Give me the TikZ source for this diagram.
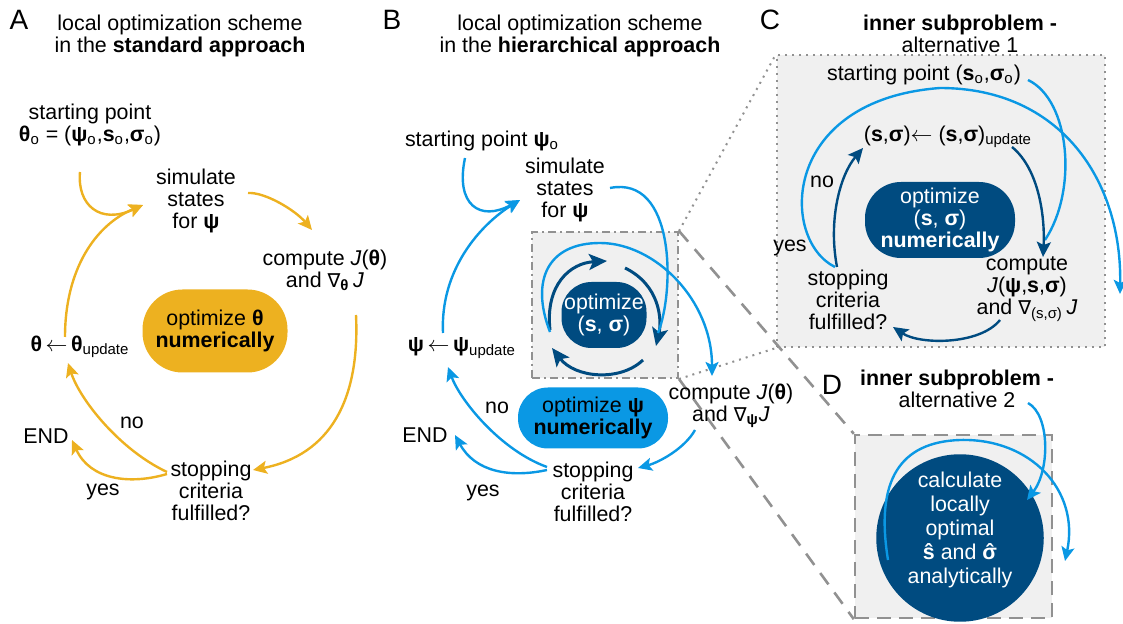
\documentclass[tikz,border=0pt]{standalone}
\usepackage{fontspec}
\setmainfont{Liberation Sans}
\newfontfamily\symf{DejaVu Sans}
\newcommand\nab{{\symf\fontsize{9.6}{11}\selectfont ∇}}
\newcommand\sighat{\ooalign{σ\cr\hidewidth\char"02C6\hidewidth\cr}}
\usetikzlibrary{arrows.meta}
\definecolor{ocher}{RGB}{237,177,32}
\definecolor{sky}{RGB}{10,152,228}
\definecolor{navy}{RGB}{0,75,128}
\definecolor{pane}{RGB}{240,240,240}
\definecolor{frame}{RGB}{145,145,145}
\tikzset{
  txt/.style={align=center,inner sep=1pt,font=\fontsize{10.7}{11}\selectfont},
  lbl/.style={inner sep=0pt,font=\fontsize{14}{16}\selectfont},
  pill/.style={rectangle,inner sep=0pt,align=center,font=\fontsize{10.7}{11}\selectfont},
  yarr/.style={draw=ocher,line width=1.2pt,-{Stealth[length=7pt,width=6.5pt,inset=1.5pt]}},
  barr/.style={draw=sky,line width=1.2pt,-{Stealth[length=7pt,width=6.5pt,inset=1.5pt]}},
  bline/.style={draw=sky,line width=1.2pt},
  darr/.style={draw=navy,line width=1.2pt,-{Stealth[length=7.5pt,width=7pt,inset=1.5pt]}},
  dthick/.style={draw=navy,line width=1.5pt,-{Stealth[length=9pt,width=8pt,inset=2pt]}},
  dotline/.style={draw=frame,line width=1pt,dash pattern=on 1pt off 2.5pt},
  dashline/.style={draw=frame,line width=1.3pt,dash pattern=on 7pt off 5pt},
  zoomB/.style={draw=frame,fill=pane,line width=1pt,dash pattern=on 4pt off 2pt on 1pt off 2pt,minimum width=73pt,minimum height=73pt,inner sep=0pt},
  zoomC/.style={dotline,fill=pane,minimum width=164pt,minimum height=146pt,inner sep=0pt},
  zoomD/.style={draw=frame,fill=pane,line width=1.2pt,dash pattern=on 7pt off 4pt,minimum width=98.5pt,minimum height=91.5pt,inner sep=0pt},
}

\begin{document}
\begin{tikzpicture}[x=0.5pt,y=-0.5pt]
	\useasboundingbox (0,0) rectangle (1123,624);

	\node[zoomB] at (605,305) (boxB) {};
	\node[zoomC] at (941,201) (boxC) {};
	\node[zoomD] at (953.5,526.5) (boxD) {};
	\draw[dotline] (boxB.north east) -- (boxC.north west);
	\draw[dotline] (boxB.south east) -- (boxC.south west);
	\draw[dashline] (boxB.north east) -- (boxD.north west);
	\draw[dashline] (boxB.south east) -- (boxD.south west);

	% A
	\node[lbl] at (19,20) (labA) {A};
	\node[txt] at (180,36) (ttlA) {local optimization scheme\\in the \textbf{standard approach}};
	\node[txt] at (90,125) (startA) {starting point\\\textbf{θ}\textsubscript{o} = (\textbf{ψ}\textsubscript{o},\textbf{s}\textsubscript{o},\textbf{σ}\textsubscript{o})};
	\node[txt] at (196,201) (simA) {simulate\\states\\for \textbf{ψ}};
	\node[txt] at (325,270) (cmpA) {compute \textit{J}(\textbf{θ})\\and \nab\textsubscript{\textbf{θ}}\,\textit{J}};
	\node[pill,fill=ocher,minimum width=72.5pt,minimum height=41.5pt,rounded corners=20pt] at (215,331) (optA) {optimize \textbf{θ}\\\textbf{numerically}};
	\node[txt] at (80,347) (updA) {\textbf{θ}\,$\leftarrow$\,\textbf{θ}\textsubscript{update}};
	\node[txt] at (211,491) (stopA) {stopping\\criteria\\fulfilled?};
	\node[txt] at (46,436) (endA) {END};
	\node[txt] at (132,423) (noA) {no};
	\node[txt] at (103,492) (yesA) {yes};

	\draw[yarr] ([shift={(-10,47)}]startA.center) .. controls (77,205) and (100,225) .. ([shift={(-53,4)}]simA.center);
	\draw[yarr] ([shift={(-15,-10)}]updA.center) .. controls (65,270) and (95,225) .. ([shift={(-53,4)}]simA.center);
	\draw[yarr] ([shift={(52,-8)}]simA.center) .. controls (265,192) and (295,210) .. ([shift={(-13,-40)}]cmpA.center);
	\draw[yarr] ([shift={(31,45)}]cmpA.center) .. controls (360,400) and (330,455) .. ([shift={(42,-21)}]stopA.center);
	\draw[yarr] ([shift={(-44,-19)}]stopA.center) .. controls (120,450) and (80,400) .. ([shift={(-12,16)}]updA.center);
	\draw[yarr] ([shift={(-44,-17)}]stopA.center) .. controls (130,485) and (90,480) .. ([shift={(26,4)}]endA.center);

	% B
	\node[lbl] at (392,20) (labB) {B};
	\node[txt] at (580,36) (ttlB) {local optimization scheme\\in the \textbf{hierarchical approach}};
	\node[txt] at (482,141) (startB) {starting point \textbf{ψ}\textsubscript{o}};
	\node[txt] at (565,190) (simB) {simulate\\states\\for \textbf{ψ}};
	\node[pill,fill=navy,text=white,minimum width=42.5pt,minimum height=33pt,rounded corners=15pt] at (604,315) (inB) {optimize\\(\textbf{s}, \textbf{σ})};
	\node[pill,fill=sky,minimum width=75pt,minimum height=30.5pt,rounded corners=15pt] at (593,418) (optB) {optimize \textbf{ψ}\\\textbf{numerically}};
	\node[txt] at (462,348) (updB) {\textbf{ψ}\,$\leftarrow$\,\textbf{ψ}\textsubscript{update}};
	\node[txt] at (731,406) (cmpB) {compute \textit{J}(\textbf{θ})\\and \nab\textsubscript{\textbf{ψ}}\textit{J}};
	\node[txt] at (593,492) (stopB) {stopping\\criteria\\fulfilled?};
	\node[txt] at (425,435) (endB) {END};
	\node[txt] at (497,408) (noB) {no};
	\node[txt] at (483,493) (yesB) {yes};

	\draw[dthick] ([shift={(-54,15)}]inB.center) .. controls (545,285) and (570,263) .. ([shift={(3,-54)}]inB.center);
	\draw[dthick] ([shift={(21,-47)}]inB.center) .. controls (660,285) and (662,320) .. ([shift={(52,31)}]inB.center);
	\draw[dthick] ([shift={(39,45)}]inB.center) .. controls (620,382) and (575,378) .. ([shift={(-52,33)}]inB.center);

	\draw[barr] ([shift={(-17,17)}]startB.center) .. controls (455,205) and (480,222) .. ([shift={(-45,10)}]simB.center);
	\draw[barr] ([shift={(-19,-15)}]updB.center) .. controls (440,270) and (480,225) .. ([shift={(-45,10)}]simB.center);
	\draw[bline] ([shift={(45,-2)}]simB.center) .. controls (675,175) and (675,290) .. ([shift={(54,18)}]inB.center);
	\draw[barr] ([shift={(-54,17)}]inB.center) .. controls (530,280) and (548,243) .. (600,243) .. controls (655,243) and (712,300) .. ([shift={(-19,-30)}]cmpB.center);
	\draw[barr] ([shift={(-36,24)}]cmpB.center) .. controls (685,448) and (660,462) .. ([shift={(45,-24)}]stopB.center);
	\draw[barr] ([shift={(-46,-25)}]stopB.center) .. controls (500,450) and (460,400) .. ([shift={(-14,19)}]updB.center);
	\draw[barr] ([shift={(-46,-22)}]stopB.center) .. controls (510,478) and (475,472) .. ([shift={(30,0)}]endB.center);

	% C
	\node[lbl] at (770,20) (labC) {C};
	\node[txt] at (960,34) (ttlC) {\textbf{inner subproblem -}\\alternative 1};
	\node[txt] at (924,75) (startC) {starting point (\textbf{s}\textsubscript{o},\textbf{σ}\textsubscript{o})};
	\node[txt] at (948,137) (updC) {(\textbf{s},\textbf{σ})$\leftarrow$ (\textbf{s},\textbf{σ})\textsubscript{update}};
	\node[pill,fill=navy,text=white,minimum width=75pt,minimum height=38pt,rounded corners=18pt] at (940,220) (optC) {optimize\\(\textbf{s}, \textbf{σ})\\\textbf{numerically}};
	\node[txt] at (1027,289) (cmpC) {compute\\\textit{J}(\textbf{ψ},\textbf{s},\textbf{σ})\\and \nab\textsubscript{(s,σ)}\,\textit{J}};
	\node[txt] at (848,300) (stopC) {stopping\\criteria\\fulfilled?};
	\node[txt] at (822,182) (noC) {no};
	\node[txt] at (790,248) (yesC) {yes};
	\coordinate (outC) at (1120,294);

	\draw[bline] ([shift={(104,5)}]startC.center) .. controls (1070,100) and (1078,190) .. ([shift={(18,-49)}]cmpC.center);
	\draw[barr] ([shift={(-13,-33)}]stopC.center) .. controls (780,240) and (780,100) .. (940,88) .. controls (1060,88) and (1122,180) .. (outC);
	\draw[darr] ([shift={(64,10)}]updC.center) .. controls (1040,170) and (1045,220) .. ([shift={(16,-32)}]cmpC.center);
	\draw[darr] ([shift={(-27,31)}]cmpC.center) .. controls (980,345) and (920,345) .. ([shift={(45,27)}]stopC.center);
	\draw[darr] ([shift={(-11,-33)}]stopC.center) .. controls (828,220) and (840,175) .. ([shift={(-85,11)}]updC.center);

	% D
	\node[lbl] at (832,385) (labD) {D};
	\node[txt] at (957,389) (ttlD) {\textbf{inner subproblem -}\\alternative 2};
	\node[circle,fill=navy,text=white,minimum size=72.5pt,inner sep=0pt,align=center,font=\fontsize{10.7}{12}\selectfont] at (960,538) (calcD) {calculate\\locally\\optimal\\\textbf{ŝ} and \textbf{\sighat}\\analytically\\[-2pt]};
	\coordinate (outD) at (1065,561);

	\draw[barr] ([shift={(71,14)}]ttlD.center) .. controls (1050,415) and (1050,470) .. ([shift={(67,-38)}]calcD.center);
	\draw[barr] ([shift={(-72,22)}]calcD.center) .. controls (875,480) and (900,442) .. (960,440) .. controls (1030,438) and (1080,490) .. (outD);

\end{tikzpicture}
\end{document}
